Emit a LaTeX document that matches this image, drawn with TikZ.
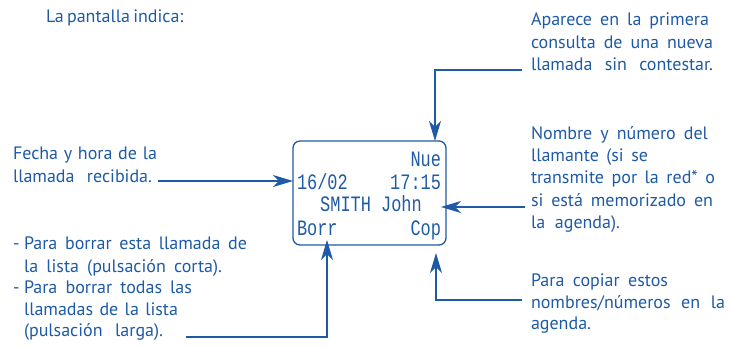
\documentclass[tikz,border=0pt]{standalone}
\usepackage{fontspec}
\setmainfont{PT Sans}
\newfontfamily\lcdfont[FakeStretch=0.77]{Liberation Mono}
\usetikzlibrary{arrows.meta}
\definecolor{ink}{RGB}{30,90,165}
\begin{document}
\begin{tikzpicture}[x=1pt,y=-1pt,
  every node/.style={inner sep=0pt, outer sep=0pt, text=ink},
  lbl/.style={anchor=base west, font=\fontsize{18}{22}\selectfont},
  lcdw/.style={anchor=base west, font=\lcdfont\fontsize{22}{23}\selectfont},
  lcde/.style={anchor=base east, font=\lcdfont\fontsize{22}{23}\selectfont},
  lcdc/.style={anchor=base, font=\lcdfont\fontsize{22}{23}\selectfont},
  conn/.style={draw=ink, line width=1.3pt, -{Stealth[length=20pt,width=12pt,inset=6pt]}},
  screenbox/.style={draw=ink, line width=1.3pt, rounded corners=7pt, minimum width=153pt, minimum height=104pt}
  ]
\useasboundingbox (0,0) rectangle (732,347);

% title
\node[lbl] (title) at (46,22.7) {\makebox[118pt][s]{La pantalla indica:}};

% screen
\node[screenbox] (screen) at (369.5,193) {};
\node[lcde] (nue) at (441,166.5) {Nue};
\node[lcdw] (fecha) at (297,190) {16/02};
\node[lcde] (hora) at (441,190) {17:15};
\node[lcdc] (nombre) at (371,212) {SMITH John};
\node[lcdw] (borr) at (297,235.5) {Borr};
\node[lcde] (cop) at (441,235.5) {Cop};

% top right block
\node[lbl] (ap1) at (531,26) {\makebox[178pt][s]{Aparece en la primera}};
\node[lbl] (ap2) at (531,48.5) {\makebox[182pt][s]{consulta de una nueva}};
\node[lbl] (ap3) at (531,71) {\makebox[182pt][s]{llamada sin contestar.}};

% name block
\node[lbl] (no1) at (531,139.3) {\makebox[177pt][s]{Nombre y número del}};
\node[lbl] (no2) at (531,161.7) {\makebox[117pt][s]{llamante (si se}};
\node[lbl] (no3) at (531,184) {\makebox[184pt][s]{transmite por la red* o}};
\node[lbl] (no4) at (531,206.7) {\makebox[182pt][s]{si está memorizado en}};
\node[lbl] (no5) at (531,228.3) {\makebox[89pt][s]{la agenda).}};

% copy block
\node[lbl] (co1) at (531,286.7) {\makebox[137pt][s]{Para copiar estos}};
\node[lbl] (co2) at (531,308.5) {\makebox[194pt][s]{nombres/números en la}};
\node[lbl] (co3) at (531,330) {agenda.};

% date block
\node[lbl] (fe1) at (13,160) {\makebox[144pt][s]{Fecha y hora de la}};
\node[lbl] (fe2) at (13,182.5) {\makebox[139pt][s]{llamada recibida.}};

% delete block
\node[lbl] (d1) at (13,250) {-};
\node[lbl] (bo1) at (24,250) {\makebox[223pt][s]{Para borrar esta llamada de}};
\node[lbl] (bo2) at (24,272.5) {\makebox[198pt][s]{la lista (pulsación corta).}};
\node[lbl] (d2) at (13,294) {-};
\node[lbl] (bo3) at (24,294) {\makebox[168pt][s]{Para borrar todas las}};
\node[lbl] (bo4) at (24,316) {\makebox[154pt][s]{llamadas de la lista}};
\node[lbl] (bo5) at (24,337) {\makebox[139pt][s]{(pulsación larga).}};

% connector free ends
\coordinate (cap) at (522,70);
\coordinate (cfe) at (158,181);
\coordinate (cno) at (525,207);
\coordinate (cbo) at (186,337);
\coordinate (cco) at (522,300);

% connectors
\draw[conn] (cap) -| ([xshift=-11pt]screen.north east);
\draw[conn] (cfe) -- (cfe -| screen.west);
\draw[conn, shorten >=-5pt] (cno) -- (cno -| screen.east);
\draw[conn] (cbo) -| ([xshift=34pt,yshift=5pt]screen.south west);
\draw[conn] (cco) -| ([xshift=-10pt,yshift=-8pt]screen.south east);
\end{tikzpicture}
\end{document}
